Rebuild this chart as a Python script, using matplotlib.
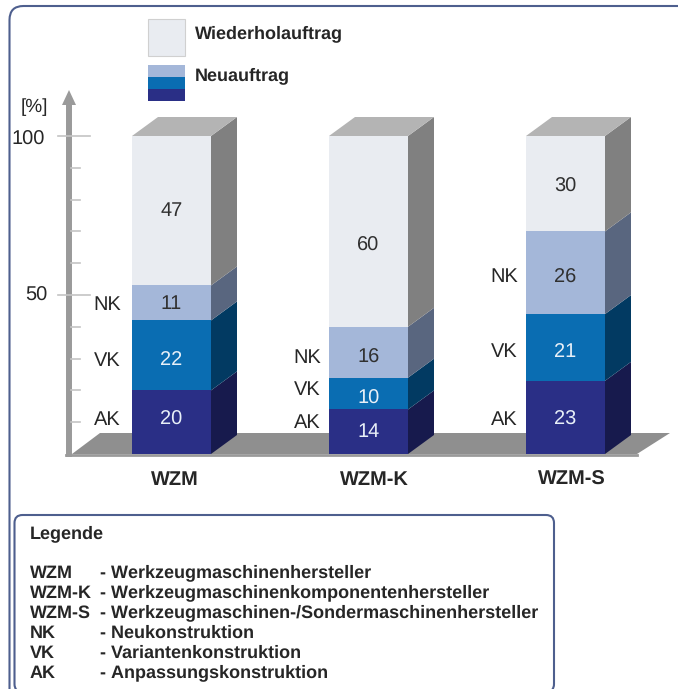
import matplotlib
matplotlib.use("Agg")
import matplotlib.pyplot as plt
from matplotlib.patches import Polygon, FancyBboxPatch, Rectangle
from matplotlib.transforms import Affine2D

categories = ["WZM", "WZM-K", "WZM-S"]
segments = ["AK", "VK", "NK", "Wiederholauftrag"]
ak_values = [20, 14, 23]
vk_values = [22, 10, 21]
nk_values = [11, 16, 26]
repeat_values = [47, 60, 30]
y_ticks_major = [50, 100]
y_ticks_minor = [10, 20, 30, 40, 60, 70, 80, 90]
legend_lines = [
    ("WZM", "- Werkzeugmaschinenhersteller"),
    ("WZM-K", "- Werkzeugmaschinenkomponentenhersteller"),
    ("WZM-S", "- Werkzeugmaschinen-/Sondermaschinenhersteller"),
    ("NK", "- Neukonstruktion"),
    ("VK", "- Variantenkonstruktion"),
    ("AK", "- Anpassungskonstruktion"),
]

# Layout: downward pixel nudges for labels, per column and segment
value_nudge = [[-3, 4, 1, 0], [0, 5, 5, 14], [2, 4, 5, 3]]
side_label_nudge = [[-2, 5, 2], [-9, -4, 6], [2, 4, 4]]
side_label_gap = [11, 8, 8]
category_nudge = [3, 5.5, 6.5]

W, H = 678, 689
PX_PER_PCT = 3.18
PX_PER_CAT = 197.0
BASE_PX, FIRST_CX = 454.0, 171.5

front_colors = ["#2a2f86", "#0a6db2", "#a4b7d9", "#e9ecf1"]
side_colors = ["#171a4d", "#023a62", "#59667f", "#808080"]
top_color = "#b4b4b4"
axis_gray = "#9a9a9a"
frame_color = "#4e5f8e"
text_color = "#262626"

plt.rcParams["font.family"] = ["Liberation Sans", "DejaVu Sans"]
plt.rcParams["text.hinting"] = "no_hinting"
plt.rcParams["text.hinting_factor"] = 1

fig = plt.figure(figsize=(W / 100, H / 100), dpi=100, facecolor="white")
ax = fig.add_axes([0, 0, 1, 1])
ax.set_xlim(-FIRST_CX / PX_PER_CAT, (W - FIRST_CX) / PX_PER_CAT)
ax.set_ylim((BASE_PX - H) / PX_PER_PCT, BASE_PX / PX_PER_PCT)
ax.axis("off")


# helpers converting pixel offsets into data-space lengths
def dx(px):
    return px / PX_PER_CAT


def dy(px):
    return px / PX_PER_PCT


def x_at(px):
    return (px - FIRST_CX) / PX_PER_CAT


def y_at(px):
    return (BASE_PX - px) / PX_PER_PCT


def rounded(x0, y0, x1, y1, radius, z):
    # Rounded frame built in pixel space so the corners stay circular
    box = FancyBboxPatch(
        (x0 + radius, H - y1 + radius), x1 - x0 - 2 * radius, y1 - y0 - 2 * radius,
        boxstyle=f"round,pad={radius},rounding_size={radius}",
        transform=Affine2D(),
        facecolor="white", edgecolor=frame_color, linewidth=1.5, zorder=z)
    ax.add_patch(box)


rounded(9.5, 6, 720, 730, 14, 0)
rounded(14.5, 515, 554, 692, 8, 1)

# floor and vertical axis
bar_w = dx(79)
depth_x, depth_y = dx(26), dy(19)
floor_left, floor_right = x_at(72), x_at(637)
ax.add_patch(Polygon([(floor_left, 0), (floor_left + dx(28), dy(21)),
                      (floor_right + dx(33), dy(21)), (floor_right, 0)],
                     closed=True, facecolor="#8f8f8f", edgecolor="none", zorder=2))
ax.plot([x_at(69)] * 2, [-dy(2.5), y_at(105)], color=axis_gray, lw=4.3, zorder=3, solid_capstyle="butt")
ax.plot([x_at(66), floor_right], [-dy(1), -dy(1)], color=axis_gray, lw=2.0, zorder=2)
ax.add_patch(Polygon([(x_at(62), y_at(105)), (x_at(76), y_at(105)), (x_at(69), y_at(90))],
                     closed=True, facecolor=axis_gray, edgecolor="none", zorder=3))
for t in y_ticks_major:
    ax.plot([x_at(58), x_at(90)], [t, t], color="#c4c4c4", lw=1.2, zorder=4)
for t in y_ticks_minor:
    ax.plot([x_at(71), x_at(80)], [t, t], color="#c4c4c4", lw=1.2, zorder=4)
ax.text(x_at(45), y_at(140), "100", ha="right", va="center", fontsize=14.5, color=text_color, zorder=5)
ax.text(x_at(47), y_at(296), "50", ha="right", va="center", fontsize=14.5, color=text_color, zorder=5)
ax.text(x_at(34), y_at(107), "[%]", ha="center", va="center", fontsize=14, color=text_color, zorder=5)

# stacked columns with shaded side and top faces
series = [ak_values, vk_values, nk_values, repeat_values]
for i, cat in enumerate(categories):
    left = i - bar_w / 2
    right = i + bar_w / 2
    bottom = 0
    for s, values in enumerate(series):
        v = values[i]
        top = bottom + v
        ax.bar(i, v, width=bar_w, bottom=bottom, color=front_colors[s], linewidth=0, zorder=6)
        ax.add_patch(Polygon([(right, bottom), (right + depth_x, bottom + depth_y),
                              (right + depth_x, top + depth_y), (right, top)],
                             closed=True, facecolor=side_colors[s], edgecolor="none", zorder=6))
        mid = bottom + v / 2
        ax.text(i, mid - dy(value_nudge[i][s]), str(v), ha="center", va="center", fontsize=14.5, zorder=7,
                color="#e8f0f8" if s < 2 else "#303030")
        if s < 3:
            ax.text(left - dx(side_label_gap[i]), mid - dy(side_label_nudge[i][s]), segments[s],
                    ha="right", va="center", fontsize=14.5, color=text_color, zorder=7)
        bottom = top
    ax.add_patch(Polygon([(left, bottom), (left + depth_x, bottom + depth_y),
                          (right + depth_x, bottom + depth_y), (right, bottom)],
                         closed=True, facecolor=top_color, edgecolor="none", zorder=6))
    ax.text(i + dx(category_nudge[i]), y_at(480), cat, ha="center", va="center", fontsize=14.5,
            fontweight="bold", color=text_color, zorder=7)

# colour key above the chart
key_x, key_w = x_at(148), dx(37)
ax.add_patch(Rectangle((key_x, y_at(56)), key_w, dy(37), facecolor=front_colors[3],
                       edgecolor="#d0d0d0", lw=0.8, zorder=5))
for k, s in enumerate([0, 1, 2]):
    ax.add_patch(Rectangle((key_x, y_at(101) + k * dy(12)), key_w, dy(12),
                           facecolor=front_colors[s], edgecolor="none", zorder=5))
ax.text(x_at(195), y_at(34), "Wiederholauftrag", ha="left", va="center", fontsize=13,
        fontweight="bold", color=text_color, zorder=5)
ax.text(x_at(195), y_at(76), "Neuauftrag", ha="left", va="center", fontsize=13,
        fontweight="bold", color=text_color, zorder=5)

# abbreviation legend
ax.text(x_at(30), y_at(534), "Legende", ha="left", va="center", fontsize=13,
        fontweight="bold", color=text_color, zorder=5)
for n, (abbr, desc) in enumerate(legend_lines):
    y = y_at(573 + n * 20)
    ax.text(x_at(30), y, abbr, ha="left", va="center", fontsize=13, fontweight="bold", color=text_color, zorder=5)
    ax.text(x_at(100), y, desc, ha="left", va="center", fontsize=13, fontweight="bold", color=text_color, zorder=5)

fig.savefig("out.png", dpi=100, facecolor="white")
